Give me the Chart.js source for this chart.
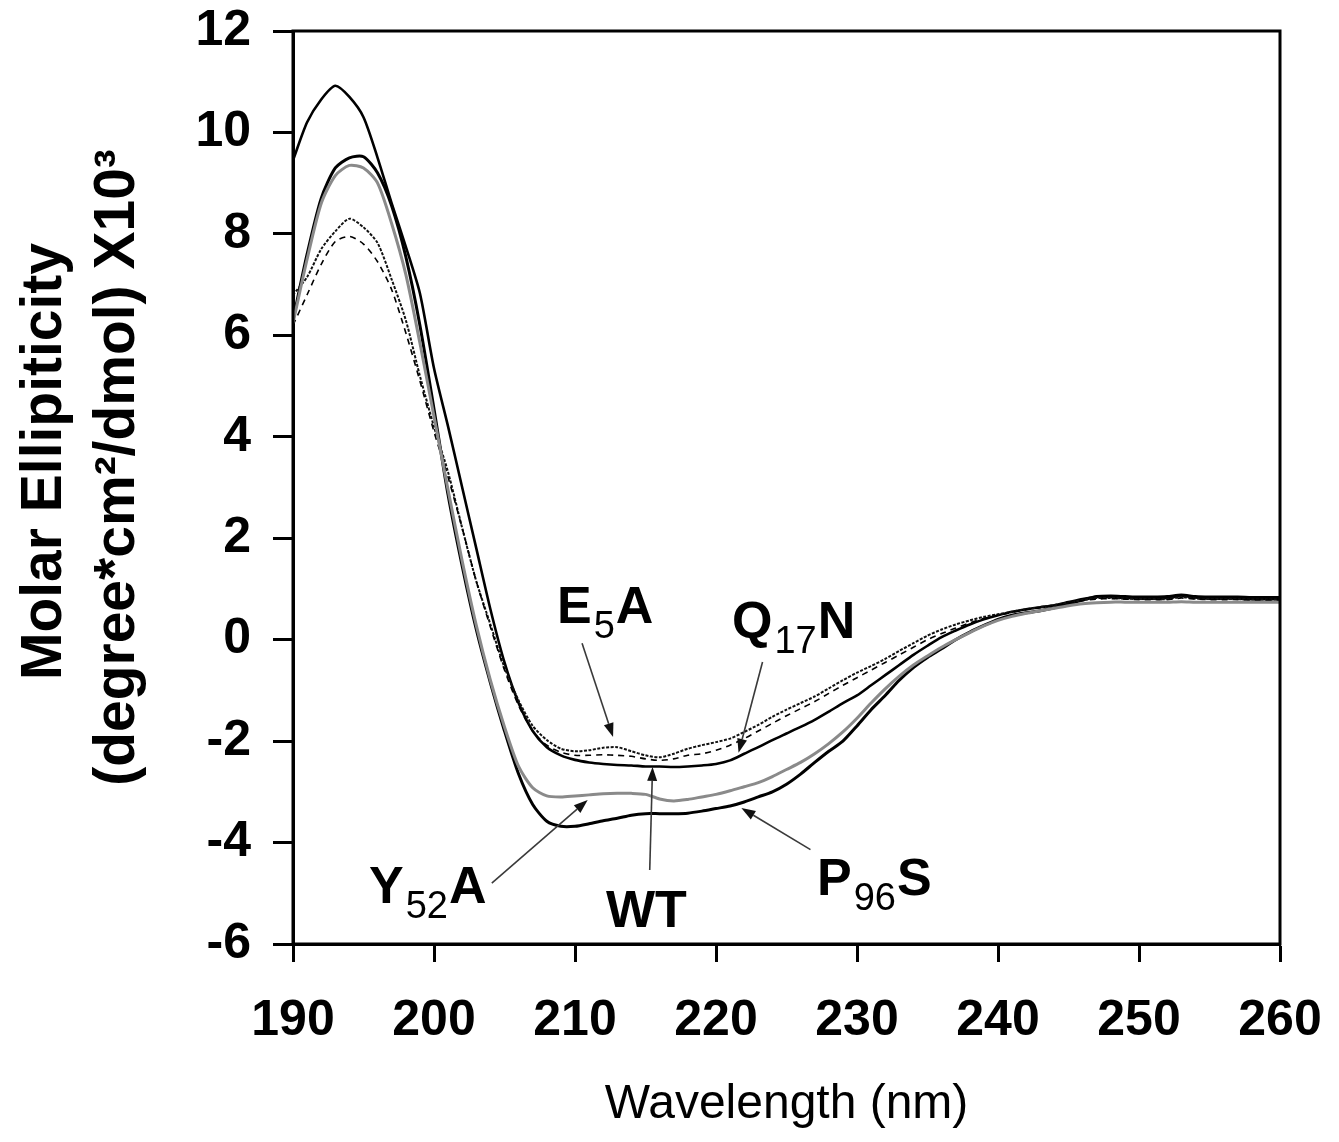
<!DOCTYPE html>
<html><head><meta charset="utf-8">
<script src="https://cdn.jsdelivr.net/npm/chart.js@4.4.1/dist/chart.umd.min.js"></script>
<style>html,body{margin:0;padding:0;background:#fff;overflow:hidden}</style>
</head><body>
<canvas id="c" width="1339" height="1142"></canvas>
<script>
const wavelengths = [190,191,192,193,194,195,196,197,198,199,200,201,202,203,204,205,206,207,208,209,210,211,212,213,214,215,216,217,218,219,220,221,222,223,224,225,226,227,228,229,230,231,232,233,234,235,236,237,238,239,240,241,242,243,244,245,246,247,248,249,250,251,252,253,254,255,256,257,258,259,260];
const WT = [9.45,10.2,10.65,10.92,10.7,10.3,9.5,8.6,7.75,6.83,5.35,4.2,3.0,1.8,0.6,-0.45,-1.25,-1.8,-2.12,-2.28,-2.37,-2.42,-2.45,-2.47,-2.48,-2.5,-2.5,-2.51,-2.5,-2.48,-2.45,-2.38,-2.25,-2.12,-1.98,-1.85,-1.72,-1.58,-1.42,-1.25,-1.1,-0.9,-0.7,-0.5,-0.3,-0.12,0.05,0.18,0.3,0.4,0.48,0.55,0.6,0.64,0.68,0.74,0.8,0.84,0.84,0.82,0.81,0.81,0.82,0.86,0.83,0.81,0.81,0.81,0.8,0.8,0.8];
const P96S = [6.3,7.6,8.7,9.3,9.5,9.52,9.2,8.55,7.55,6.2,4.55,2.85,1.45,0.2,-0.85,-1.8,-2.65,-3.25,-3.58,-3.68,-3.68,-3.63,-3.57,-3.52,-3.46,-3.43,-3.43,-3.43,-3.42,-3.38,-3.33,-3.28,-3.2,-3.1,-3.0,-2.85,-2.65,-2.42,-2.2,-2.0,-1.7,-1.38,-1.1,-0.8,-0.55,-0.35,-0.18,0.0,0.15,0.28,0.4,0.48,0.53,0.57,0.63,0.7,0.78,0.85,0.86,0.85,0.84,0.84,0.85,0.88,0.85,0.84,0.84,0.84,0.83,0.83,0.83];
const Y52A = [6.24,7.5,8.6,9.15,9.35,9.3,9.0,8.2,7.2,5.85,4.4,2.95,1.55,0.28,-0.8,-1.72,-2.5,-2.92,-3.08,-3.1,-3.08,-3.06,-3.04,-3.03,-3.03,-3.05,-3.14,-3.18,-3.15,-3.1,-3.05,-2.98,-2.9,-2.82,-2.7,-2.56,-2.42,-2.25,-2.05,-1.82,-1.55,-1.25,-0.97,-0.72,-0.5,-0.32,-0.15,0.0,0.14,0.27,0.38,0.46,0.52,0.57,0.62,0.67,0.71,0.73,0.74,0.74,0.74,0.74,0.74,0.75,0.74,0.74,0.74,0.74,0.74,0.74,0.74];
const E5A = [6.8,7.15,7.7,8.05,8.3,8.13,7.82,7.1,6.3,5.2,4.2,3.3,2.2,1.15,0.3,-0.55,-1.2,-1.7,-1.98,-2.15,-2.2,-2.18,-2.13,-2.12,-2.2,-2.28,-2.32,-2.25,-2.15,-2.08,-2.02,-1.95,-1.82,-1.68,-1.52,-1.38,-1.25,-1.12,-0.96,-0.8,-0.65,-0.52,-0.38,-0.22,-0.07,0.08,0.2,0.3,0.38,0.45,0.5,0.55,0.6,0.64,0.68,0.73,0.78,0.82,0.82,0.81,0.8,0.8,0.8,0.84,0.81,0.8,0.8,0.8,0.79,0.79,0.79];
const Q17N = [6.2,6.8,7.4,7.85,7.95,7.8,7.45,6.9,6.05,5.1,4.1,3.2,2.2,1.15,0.25,-0.6,-1.3,-1.8,-2.08,-2.22,-2.28,-2.28,-2.27,-2.28,-2.3,-2.35,-2.38,-2.35,-2.28,-2.25,-2.18,-2.08,-1.95,-1.8,-1.65,-1.5,-1.36,-1.22,-1.06,-0.9,-0.75,-0.6,-0.45,-0.3,-0.15,0.0,0.12,0.23,0.33,0.42,0.48,0.54,0.59,0.63,0.67,0.72,0.77,0.8,0.81,0.8,0.79,0.79,0.79,0.82,0.8,0.79,0.79,0.79,0.78,0.78,0.78];
const xTicks = [190,200,210,220,230,240,250,260];
const yTicks = [-6,-4,-2,0,2,4,6,8,10,12];
const labelParts = [['E','5','A'],['Q','17','N'],['WT','',''],['Y','52','A'],['P','96','S']];
const xTitle = 'Wavelength (nm)';
const yTitle = ['Molar Ellipiticity','(degree*cm\u00B2/dmol) X10\u00B3'];

const FAM = '"Liberation Sans", Arial, sans-serif';
const pts = arr => wavelengths.map((w,i)=>({x:w,y:arr[i]}));

// annotation placement (data units): text anchor (left, baseline), arrow tail, arrow head
const annot = [
  {text:[208.72,0.33],  tail:[210.5,-0.07], head:[212.7,-1.92]},
  {text:[221.13,0.03],  tail:[223.3,-0.44], head:[221.6,-2.23]},
  {text:[212.2,-5.66],  tail:[215.3,-4.54], head:[215.5,-2.51]},
  {text:[195.39,-5.19], tail:[204.1,-4.8],  head:[210.9,-3.16]},
  {text:[227.16,-5.04], tail:[226.7,-4.14], head:[221.8,-3.32]}
];

const annotPlugin = {
  id:'annot',
  afterDatasetsDraw(chart){
    const {ctx, chartArea:a, scales:{x,y}} = chart;
    ctx.save();
    ctx.strokeStyle='#000'; ctx.lineWidth=3;
    ctx.strokeRect(a.left, a.top, a.right-a.left, a.bottom-a.top);
    annot.forEach((an,i)=>{
      const tx=x.getPixelForValue(an.tail[0]), ty=y.getPixelForValue(an.tail[1]);
      const hx=x.getPixelForValue(an.head[0]), hy=y.getPixelForValue(an.head[1]);
      const ang=Math.atan2(hy-ty,hx-tx), L=14, W=5;
      const bx=hx-L*Math.cos(ang), by=hy-L*Math.sin(ang);
      ctx.strokeStyle='#3a3a3a'; ctx.lineWidth=1.6;
      ctx.beginPath(); ctx.moveTo(tx,ty); ctx.lineTo(bx,by); ctx.stroke();
      ctx.fillStyle='#111';
      ctx.beginPath(); ctx.moveTo(hx,hy);
      ctx.lineTo(bx+W*Math.sin(ang), by-W*Math.cos(ang));
      ctx.lineTo(bx-W*Math.sin(ang), by+W*Math.cos(ang));
      ctx.closePath(); ctx.fill();
      const p=labelParts[i];
      let px=x.getPixelForValue(an.text[0]); const py=y.getPixelForValue(an.text[1]);
      ctx.fillStyle='#000'; ctx.textBaseline='alphabetic'; ctx.textAlign='left';
      ctx.font='bold 52px '+FAM; ctx.fillText(p[0],px,py); px+=ctx.measureText(p[0]).width+2;
      if(p[1]){ ctx.font='38px '+FAM; ctx.fillText(p[1],px,py+15); px+=ctx.measureText(p[1]).width+1; }
      if(p[2]){ ctx.font='bold 52px '+FAM; ctx.fillText(p[2],px,py); }
    });
    // y-axis title (two rotated lines), placed slightly above the plot's middle like the original
    const mid=(a.top+a.bottom)/2;
    ctx.font='bold 57px '+FAM; ctx.textAlign='center'; ctx.textBaseline='middle';
    [[45,mid-26],[118,mid-20]].forEach((pos,k)=>{
      ctx.save(); ctx.translate(pos[0],pos[1]); ctx.rotate(-Math.PI/2);
      ctx.fillText(yTitle[k],0,0); ctx.restore();
    });
    ctx.restore();
  }
};

new Chart(document.getElementById('c'), {
  type:'line',
  data:{datasets:[
    {label:'Y52A', data:pts(Y52A), borderColor:'#8a8a8a', borderWidth:3},
    {label:'Q17N', data:pts(Q17N), borderColor:'#000', borderWidth:1.6, borderDash:[6,5]},
    {label:'E5A', data:pts(E5A), borderColor:'#111', borderWidth:2, borderDash:[3,1.5]},
    {label:'P96S', data:pts(P96S), borderColor:'#000', borderWidth:3},
    {label:'WT', data:pts(WT), borderColor:'#000', borderWidth:2.6}
  ]},
  options:{
    responsive:false, animation:false, devicePixelRatio:1,
    layout:{padding:{top:31,right:59,left:0,bottom:0}},
    plugins:{legend:{display:false}, tooltip:{enabled:false}},
    elements:{point:{radius:0}, line:{tension:0.25, fill:false}},
    scales:{
      x:{type:'linear', min:190, max:260,
        afterBuildTicks:s=>{s.ticks=xTicks.map(v=>({value:v}));},
        afterFit:s=>{s.height=198; s.paddingLeft=0; s.paddingRight=0;},
        ticks:{color:'#000', font:{family:FAM,size:50,weight:'bold'}, padding:29, maxRotation:0, autoSkip:false},
        grid:{display:true, drawOnChartArea:false, drawTicks:true, tickLength:18, tickWidth:3, tickColor:'#000'},
        border:{display:true, color:'#000', width:3},
        title:{display:true, text:xTitle, color:'#000', font:{family:FAM,size:48}, padding:{top:0,bottom:8}}
      },
      y:{type:'linear', min:-6, max:12,
        afterBuildTicks:s=>{s.ticks=yTicks.map(v=>({value:v}));},
        afterFit:s=>{s.width=293; s.paddingTop=0; s.paddingBottom=0;},
        ticks:{color:'#000', font:{family:FAM,size:50,weight:'bold'}, padding:22, autoSkip:false},
        grid:{display:true, drawOnChartArea:false, drawTicks:true, tickLength:20, tickWidth:3, tickColor:'#000'},
        border:{display:true, color:'#000', width:3},
        title:{display:false}
      }
    }
  },
  plugins:[annotPlugin]
});
</script>
</body></html>
